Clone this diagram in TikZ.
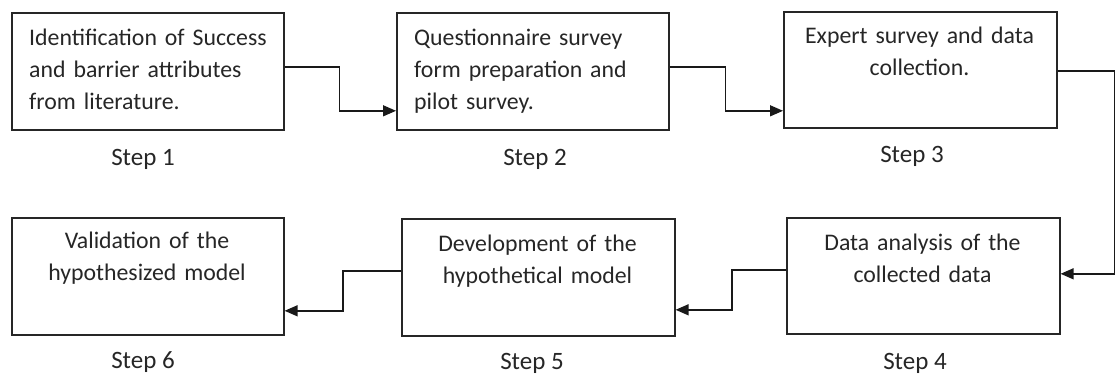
\documentclass[tikz,border=0pt]{standalone}
\usepackage{fontspec}
\setmainfont{Carlito}
\usetikzlibrary{arrows.meta}
\begin{document}
\begin{tikzpicture}[x=1pt,y=-1pt,
  stepbox/.style={draw=black!85,line width=1.6pt,inner sep=0pt,anchor=north west},
  boxtext/.style={font=\fontsize{23.8}{32}\selectfont,text=black!85,inner sep=0pt,text width=#1},
  steplabel/.style={font=\fontsize{25}{30}\selectfont,text=black!85,inner sep=0pt,anchor=base},
  flow/.style={draw=black!90,line width=1.4pt,-{Triangle[length=13pt,width=11pt]}}]
\useasboundingbox (0,0) rectangle (1115,376);

% boxes of the six steps
\node[stepbox,minimum width=272pt,minimum height=117pt] (b1) at (11,12) {};
\node[stepbox,minimum width=272pt,minimum height=117pt] (b2) at (396,12) {};
\node[stepbox,minimum width=273pt,minimum height=116pt] (b3) at (783,11) {};
\node[stepbox,minimum width=273pt,minimum height=116pt] (b4) at (786,217) {};
\node[stepbox,minimum width=273pt,minimum height=117pt] (b5) at (401,218) {};
\node[stepbox,minimum width=272pt,minimum height=117pt] (b6) at (11,217) {};

% texts inside the boxes
\node[boxtext=265pt,align=left,anchor=base west] (t1) at (29,45)
  {Identification of Success\\and barrier attributes\\from literature.};
\node[boxtext=265pt,align=left,anchor=base west] (t2) at (414,45)
  {Questionnaire survey\\form preparation and\\pilot survey.};
\node[boxtext=273pt,align=center,anchor=base] (t3) at (919.5,43)
  {Expert survey and data\\collection.};
\node[boxtext=273pt,align=center,anchor=base] (t4) at (922.5,250)
  {Data analysis of the\\collected data};
\node[boxtext=273pt,align=center,anchor=base] (t5) at (537.5,251)
  {Development of the\\hypothetical model};
\node[boxtext=272pt,align=center,anchor=base] (t6) at (147,248)
  {Validation of the\\hypothesized model};

% step captions
\node[steplabel] (s1) at (143,165) {Step 1};
\node[steplabel] (s2) at (535,165) {Step 2};
\node[steplabel] (s3) at (912,162) {Step 3};
\node[steplabel] (s4) at (915,369) {Step 4};
\node[steplabel] (s5) at (532,369) {Step 5};
\node[steplabel] (s6) at (143,368) {Step 6};

% connectors between consecutive steps
\draw[flow] ([yshift=4.5pt]b1.east) -- ++(55,0) |- ([yshift=-39.5pt]b2.west);
\draw[flow] ([yshift=4.5pt]b2.east) -- ++(56,0) |- ([yshift=-41pt]b3.west);
\draw[flow] ([yshift=-1pt]b3.east) -- ++(57,0) |- ([yshift=2pt]b4.east);
\draw[flow] ([yshift=6pt]b4.west) -- ++(-54,0) |- ([yshift=-32.5pt]b5.east);
\draw[flow] ([yshift=6.5pt]b5.west) -- ++(-58,0) |- ([yshift=-34.5pt]b6.east);
\end{tikzpicture}
\end{document}
